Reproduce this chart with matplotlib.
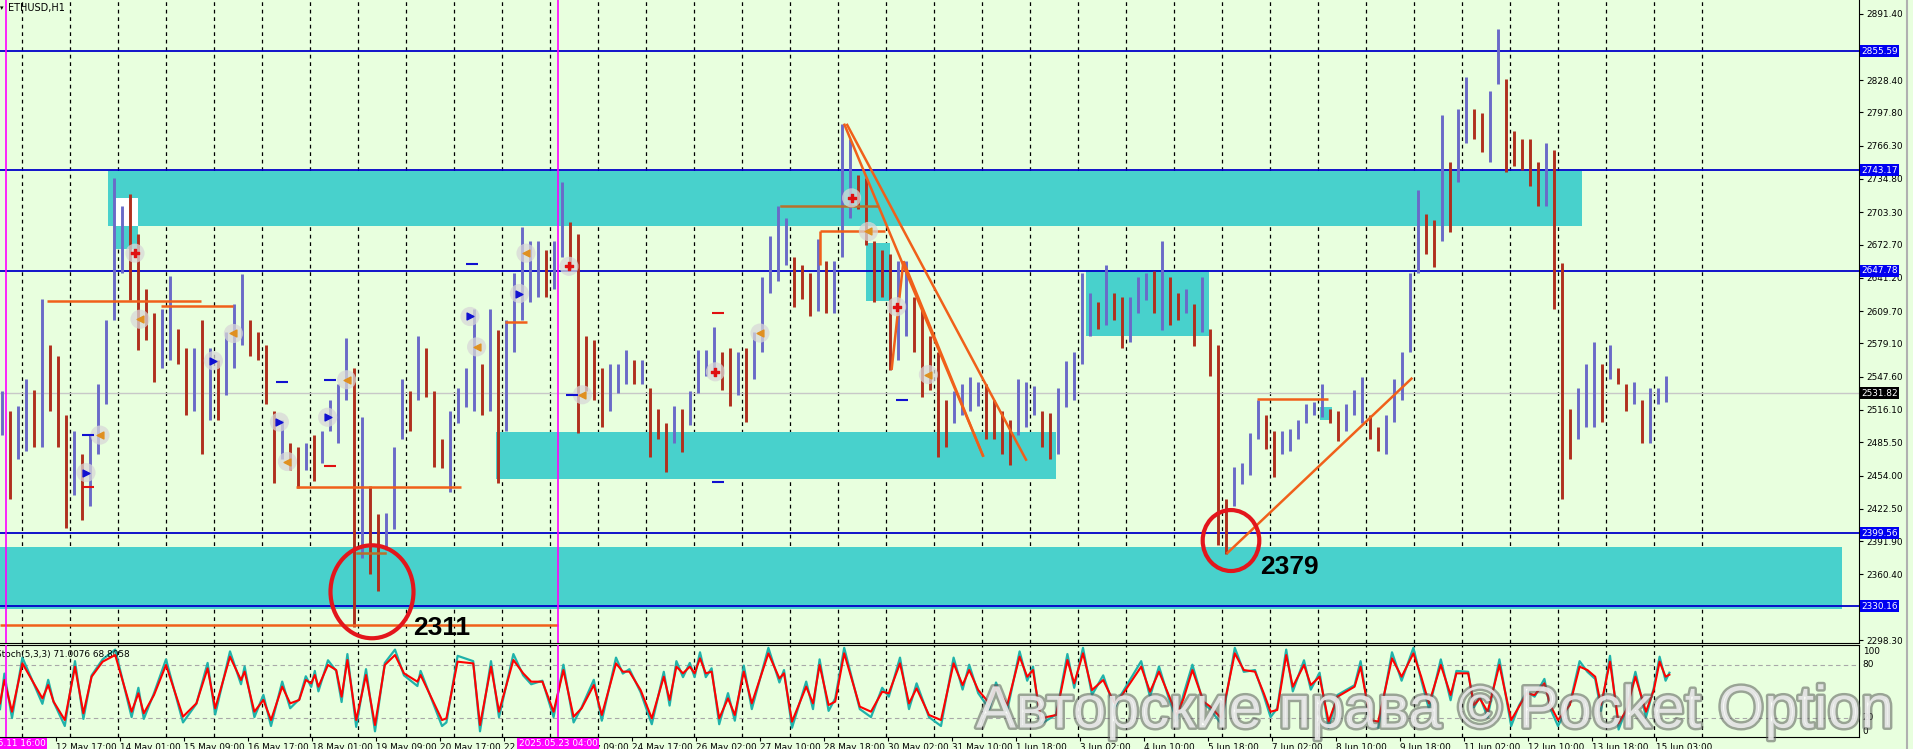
import matplotlib
matplotlib.use("Agg")
import matplotlib.pyplot as plt
import matplotlib.patheffects as pe
import matplotlib.transforms as mtransforms
from matplotlib.patches import Rectangle, Ellipse
import numpy as np

plt.rcParams['font.family'] = ['DejaVu Sans']

# ---------------------------------------------------------------- data
title_text = "ETHUSD,H1"
stoch_title = "Stoch(5,3,3) 71.0076 68.8058"

# 4-hour bars; x unit = hours since 2025.05.11 16:00 (bar centres)
bar_first_hour = -2
bar_step_hours = 4
bar_high = [
    2534, 2515, 2520, 2545, 2535, 2621, 2578, 2567, 2511, 2496,
    2474, 2492, 2541, 2601, 2736, 2709, 2721, 2683, 2631, 2608,
    2612, 2643, 2593, 2575, 2575, 2601, 2575, 2563, 2590, 2616,
    2645, 2601, 2590, 2578, 2515, 2507, 2485, 2481, 2485, 2492,
    2496, 2526, 2541, 2584, 2556, 2509, 2444, 2418, 2419, 2481,
    2545, 2534, 2586, 2575, 2534, 2489, 2515, 2537, 2556, 2612,
    2560, 2612, 2592, 2601, 2646, 2689, 2676, 2676, 2668, 2676,
    2732, 2694, 2683, 2586, 2582, 2556, 2560, 2560, 2573, 2563,
    2563, 2537, 2517, 2504, 2520, 2517, 2534, 2573, 2573, 2595,
    2571, 2575, 2571, 2575, 2590, 2642, 2681, 2709, 2698, 2661,
    2653, 2646, 2678, 2657, 2657, 2787, 2773, 2739, 2736, 2676,
    2668, 2664, 2657, 2657, 2623, 2612, 2586, 2571, 2526, 2534,
    2541, 2547, 2543, 2541, 2526, 2515, 2507, 2545, 2543, 2539,
    2515, 2513, 2537, 2562, 2571, 2646, 2627, 2618, 2653, 2627,
    2623, 2623, 2642, 2646, 2648, 2676, 2642, 2627, 2631, 2616,
    2642, 2593, 2578, 2432, 2462, 2466, 2494, 2526, 2511, 2496,
    2496, 2498, 2507, 2522, 2524, 2541, 2517, 2515, 2522, 2535,
    2547, 2511, 2500, 2511, 2545, 2571, 2646, 2724, 2702, 2696,
    2795, 2751, 2801, 2831, 2801, 2797, 2818, 2877, 2829, 2780,
    2773, 2773, 2751, 2769, 2762, 2655, 2517, 2537, 2560, 2580,
    2560, 2578, 2556, 2541, 2543, 2526, 2537, 2537, 2548,
]
bar_low = [
    2492, 2432, 2470, 2477, 2481, 2481, 2515, 2481, 2404, 2436,
    2412, 2425, 2474, 2522, 2601, 2646, 2620, 2573, 2582, 2543,
    2556, 2563, 2560, 2511, 2515, 2474, 2507, 2507, 2530, 2556,
    2578, 2567, 2563, 2522, 2447, 2470, 2459, 2442, 2459, 2449,
    2466, 2496, 2485, 2526, 2311, 2376, 2361, 2345, 2384, 2403,
    2489, 2496, 2526, 2528, 2462, 2461, 2438, 2504, 2519, 2515,
    2511, 2515, 2447, 2496, 2571, 2601, 2618, 2623, 2623, 2631,
    2661, 2650, 2494, 2534, 2526, 2500, 2515, 2532, 2541, 2541,
    2541, 2472, 2489, 2457, 2485, 2476, 2502, 2532, 2548, 2548,
    2535, 2520, 2530, 2505, 2545, 2571, 2627, 2638, 2653, 2614,
    2621, 2605, 2610, 2608, 2608, 2661, 2698, 2706, 2672, 2618,
    2623, 2554, 2563, 2586, 2571, 2528, 2535, 2472, 2481, 2504,
    2511, 2515, 2520, 2489, 2489, 2474, 2464, 2492, 2500, 2511,
    2481, 2470, 2474, 2519, 2526, 2560, 2586, 2593, 2597, 2601,
    2575, 2580, 2608, 2620, 2608, 2592, 2597, 2601, 2608, 2577,
    2590, 2548, 2388, 2380, 2425, 2446, 2455, 2489, 2479, 2453,
    2474, 2477, 2489, 2504, 2511, 2509, 2504, 2487, 2496, 2511,
    2504, 2489, 2477, 2474, 2505, 2526, 2571, 2646, 2664, 2651,
    2676, 2685, 2732, 2769, 2773, 2760, 2751, 2825, 2741, 2747,
    2743, 2728, 2709, 2709, 2612, 2432, 2470, 2489, 2500, 2500,
    2505, 2545, 2541, 2515, 2522, 2485, 2485, 2522, 2524,
]

# horizontal levels and current price
level_prices = [2855.59, 2743.17, 2647.78, 2399.56, 2330.16]
current_price = 2531.82
price_tick_values = [2891.40, 2828.40, 2797.80, 2766.30, 2734.80, 2703.30,
                     2672.70, 2641.20, 2609.70, 2579.10, 2547.60, 2516.10, 2485.50,
                     2454.00, 2422.50, 2391.90, 2360.40, 2298.30]

# supply / demand zones: (hour start, hour end, price low, price high)
zone_h0 = [51, 245, -3, 540, 430, 657, 54.5]
zone_h1 = [788, 525, 918, 601.5, 442, 663, 66]
zone_p0 = [2690.5, 2450.4, 2327.6, 2585.9, 2619.6, 2507.0, 2668.2]
zone_p1 = [2742.0, 2495.3, 2386.5, 2648.4, 2673.8, 2518.5, 2690.7]
notch_h = [54.5, 66]
notch_p = [2690.7, 2716.9]

# orange drawn lines (hour0, price0, hour1, price1)
oline_h0 = [20.5, 77.5, 145, -3, 249.5, 407, 407, 419, 420.3, 442.8, 448.7, 610.3, 625.5]
oline_p0 = [2619.6, 2614.3, 2443.5, 2312.7, 2599.0, 2685.8, 2685.8, 2787.2, 2787.0, 2554.0, 2657.0, 2380.0, 2526.8]
oline_h1 = [97.5, 113.5, 227.5, 276, 260.5, 439.5, 407, 488.7, 510.3, 448.7, 488.7, 703.2, 661]
oline_p1 = [2619.6, 2614.3, 2443.5, 2312.7, 2599.0, 2685.8, 2653.2, 2471.8, 2468.0, 2657.0, 2471.8, 2546.6, 2526.8]
bline_h0 = [387.5, 175.5]
bline_h1 = [435.5, 189.5]
bline_p = [2709.4, 2380.6]

# red circles (centre hour, centre price, width hours, height price) and labels
circle_h = [183, 612.5]
circle_p = [2344.0, 2392.5]
circle_w = [41.5, 28.3]
circle_ht = [88.0, 57.7]
note_text = ["2311", "2379"]
note_h = [218, 641.5]
note_p = [2310.0, 2367.4]

# signal markers
mark_h = [40, 47, 64.5, 67, 103.7, 113.7, 136.7, 140.7, 160.8, 170.3, 232, 235.3,
          256.7, 260, 281.5, 288.2, 354.7, 377, 422.8, 431.2, 445.3, 461.2]
mark_p = [2456.8, 2492.3, 2664.5, 2602.0, 2562.7, 2588.5, 2504.7, 2467.3, 2509.2, 2544.7,
          2604.6, 2575.8, 2626.3, 2664.5, 2652.1, 2530.5, 2552.2, 2588.9, 2716.9, 2685.1,
          2613.9, 2549.6]
mark_kind = ['buy', 'exit', 'sell', 'exit', 'buy', 'exit', 'buy', 'exit', 'buy', 'exit', 'buy',
             'exit', 'buy', 'exit', 'sell', 'exit', 'sell', 'exit', 'sell', 'exit', 'sell', 'exit']
dash_h = [41, 41, 138, 162, 162, 233, 283, 356, 356, 448]
dash_p = [2492, 2443, 2542.5, 2544, 2463.5, 2654.2, 2530.5, 2607.6, 2448, 2525.2]
dash_c = ['b', 'r', 'b', 'b', 'r', 'b', 'b', 'r', 'b', 'b']

# stochastic turning points (hours) - signal (red) and main (teal)
stoch_h = [
    -3, -0.8, 3, 8.2, 18.2, 21.1, 23.8, 29.4, 34.5, 38.7,
    42.8, 48.3, 54.6, 62.8, 66.2, 68.9, 74, 80, 88.5, 95.2,
    100.8, 104.6, 112, 117.5, 119.3, 124.2, 128.7, 132.5, 138.1, 142.1,
    146.6, 149.9, 152.6, 154.4, 156.2, 161, 165.1, 167.8, 170.7, 175.1,
    180, 184.5, 189.4, 194.5, 199, 205.7, 207.3, 218, 220.2, 225.8,
    233.6, 237, 242.5, 246.5, 253.7, 258.6, 262.6, 268.2, 273.8, 278.7,
    283.8, 287.8, 293.9, 297.9, 305, 308.4, 311.7, 317.3, 322.9, 328.9,
    331.8, 335.2, 338.5, 341.9, 344.3, 347, 349.9, 352.8, 356.6, 361,
    364.4, 368.9, 372.9, 381.2, 386.7, 389, 393, 400.1, 403.5, 406.8,
    411.3, 414.6, 419.1, 426.9, 432.5, 438.1, 441.4, 447, 451.5, 455.3,
    461.5, 467.5, 473.8, 478.3, 481.6, 486.1, 491.7, 495, 500.6, 506.8,
    510.6, 513.5, 517.3, 525.1, 530.7, 534.1, 538.5, 543, 548.6, 554.2,
    557.5, 567.6, 572, 576.5, 581, 585.4, 588.8, 593.2, 598.8, 602.1,
    607.7, 614.4, 618.9, 624.5, 628.9, 632.3, 635.6, 640.1, 643.4, 649,
    652.4, 656.8, 661.3, 665.8, 674.3, 677.3, 682.2, 686.1, 693, 697.8,
    703.7, 707.6, 711.5, 717.4, 722.3, 725.2, 731.1, 734, 736.9, 740.8,
    746.7, 752.6, 756.5, 760.4, 764.3, 769.2, 772.1, 776, 781.9, 786.8,
    790.7, 794.6, 797.5, 802, 806.3, 810.2, 814.7, 820, 823.9, 826.8,
    829.8, 831.7,
]
stoch_signal = [
    36.5, 62.8, 27.1, 81.5, 42.1, 57.1, 38.4, 17.7, 77.8, 25.3,
    66.5, 83.4, 90.9, 27.1, 47.8, 25.3, 45.9, 79.7, 21.5, 36.5,
    75.9, 30.9, 89.0, 62.8, 72.2, 27.1, 40.3, 17.7, 55.3, 36.5,
    40.3, 62.8, 59.0, 68.4, 55.3, 79.7, 74.0, 44.0, 85.3, 17.7,
    68.4, 12.1, 79.7, 90.9, 70.3, 60.9, 68.4, 17.7, 19.6, 83.4,
    81.5, 12.1, 77.8, 27.1, 85.3, 70.3, 60.9, 60.9, 27.1, 74.0,
    21.5, 30.9, 57.1, 23.4, 81.5, 72.2, 72.2, 51.5, 19.6, 66.5,
    40.3, 77.8, 70.3, 77.8, 70.3, 87.2, 70.3, 72.2, 19.6, 42.1,
    23.4, 72.2, 36.5, 92.8, 64.6, 70.3, 15.9, 55.3, 36.5, 79.7,
    34.6, 38.4, 92.8, 32.8, 27.1, 49.6, 47.8, 81.5, 36.5, 53.4,
    23.4, 17.7, 81.5, 57.1, 74.0, 51.5, 36.5, 55.3, 34.6, 89.0,
    66.5, 74.0, 19.6, 23.4, 85.3, 59.0, 92.8, 51.5, 62.8, 36.5,
    44.0, 77.8, 49.6, 72.2, 47.8, 23.4, 42.1, 74.0, 38.4, 32.8,
    19.6, 92.8, 74.0, 72.2, 47.8, 27.1, 29.0, 90.9, 55.3, 79.7,
    57.1, 66.5, 15.9, 44.0, 55.3, 77.8, 17.7, 15.9, 87.2, 66.5,
    92.8, 66.5, 36.5, 79.7, 45.9, 70.3, 70.3, 34.6, 42.1, 27.1,
    79.7, 17.7, 32.8, 47.8, 45.9, 59.0, 34.6, 17.7, 34.6, 77.8,
    74.0, 66.5, 34.6, 83.4, 14.0, 29.0, 66.5, 27.1, 51.5, 83.4,
    66.5, 68.8,
]
stoch_main = [
    30, 70, 20, 88, 36, 63, 38, 11, 84, 19,
    68, 86, 97, 21, 54, 19, 48, 86, 15, 36,
    82, 24, 95, 58, 78, 21, 46, 11, 61, 31,
    41, 67, 55, 73, 50, 85, 73, 38, 92, 10,
    75, 5, 82, 97, 68, 56, 73, 11, 15, 90,
    84, 5, 84, 21, 92, 68, 58, 62, 21, 80,
    15, 32, 63, 17, 88, 70, 75, 49, 13, 72,
    34, 84, 66, 82, 66, 94, 66, 76, 13, 48,
    17, 79, 30, 99, 60, 74, 9, 61, 30, 86,
    28, 42, 99, 30, 21, 54, 44, 88, 30, 59,
    21, 11, 88, 52, 80, 48, 30, 60, 28, 95,
    62, 78, 13, 24, 92, 54, 99, 46, 68, 31,
    46, 84, 44, 78, 45, 17, 47, 80, 36, 30,
    13, 99, 72, 74, 45, 21, 31, 97, 50, 85,
    52, 71, 9, 46, 57, 84, 14, 9, 94, 62,
    99, 63, 30, 86, 40, 73, 72, 32, 44, 21,
    86, 11, 34, 50, 44, 64, 31, 11, 36, 84,
    72, 64, 28, 90, 7, 30, 72, 21, 54, 89,
    62, 71.0,
]

# time axis labels (one every 32 bars starting at 12 May 17:00)
date_first_hour = 25
date_step_hours = 32
date_labels = ["12 May 17:00", "14 May 01:00", "15 May 09:00", "16 May 17:00", "18 May 01:00",
               "19 May 09:00", "20 May 17:00", "22 May 01:00", "23 May 09:00", "24 May 17:00",
               "26 May 02:00", "27 May 10:00", "28 May 18:00", "30 May 02:00", "31 May 10:00",
               "1 Jun 18:00", "3 Jun 02:00", "4 Jun 10:00", "5 Jun 18:00", "7 Jun 02:00",
               "8 Jun 10:00", "9 Jun 18:00", "11 Jun 02:00", "12 Jun 10:00", "13 Jun 18:00",
               "15 Jun 03:00"]
separator_hours = [0, 276]
separator_labels = ["2025.05.11 16:00", "2025.05.23 04:00"]
grid_first_hour = 8
grid_last_hour = 848
watermark = "Авторские права © Pocket Option"

# ---------------------------------------------------------------- style
BG = '#E8FFDE'
BAR_UP = '#6A6AC8'
BAR_DN = '#B0301E'
CYAN = '#48D1CC'
LEVEL = '#0000C8'
ORANGE = '#F0601A'
FS = 6.4

W, H = 1913, 749
fig = plt.figure(figsize=(W / 100, H / 100), dpi=100, facecolor=BG)
XL = (-3, 926.5)
ax = fig.add_axes([0, (H - 643) / H, 1859 / W, 643 / H])
ax2 = fig.add_axes([0, (H - 737) / H, 1859 / W, (737 - 645) / H])
for a in (ax, ax2):
    a.set_facecolor(BG)
    a.set_xlim(*XL)
    a.spines['left'].set_visible(False)
    a.spines['right'].set_color('black')
    a.spines['bottom'].set_color('black')
ax.spines['top'].set_visible(False)
ax2.spines['top'].set_color('black')
ax.set_ylim(2295.5, 2904.2)
ax2.set_ylim(-1.4, 102.2)

# vertical grid (midnights) and separators
grid_hours = np.arange(grid_first_hour, grid_last_hour + 1, 24)
for a in (ax, ax2):
    for gh in grid_hours:
        a.axvline(gh, color='black', lw=0.9, ls=(0, (3, 3)), zorder=1)
    for sh in separator_hours:
        a.axvline(sh, color='#FF00FF', lw=1.2, zorder=6)

# zones
for h0, h1, p0, p1 in zip(zone_h0, zone_h1, zone_p0, zone_p1):
    ax.add_patch(Rectangle((h0, p0), h1 - h0, p1 - p0, fc=CYAN, ec='none', zorder=2))
ax.add_patch(Rectangle((notch_h[0], notch_p[0]), notch_h[1] - notch_h[0], notch_p[1] - notch_p[0],
                       fc='white', ec='none', zorder=2.1))

# levels
for lp in level_prices:
    ax.axhline(lp, color=LEVEL, lw=1.3, zorder=3)
ax.axhline(current_price, color='#C8C8C8', lw=1.0, zorder=1.5)

# bars
bh = np.array(bar_high, float)
bl = np.array(bar_low, float)
hours = bar_first_hour + bar_step_hours * np.arange(len(bh))
mid = (bh + bl) / 2
up = np.r_[True, mid[1:] >= mid[:-1]]
ax.vlines(hours[up], bl[up], bh[up], color=BAR_UP, lw=2.1, zorder=4)
ax.vlines(hours[~up], bl[~up], bh[~up], color=BAR_DN, lw=2.1, zorder=4)

# orange lines
for h0, p0, h1, p1 in zip(oline_h0, oline_p0, oline_h1, oline_p1):
    ax.plot([h0, h1], [p0, p1], color=ORANGE, lw=1.8, zorder=5, solid_capstyle='butt')
for h0, h1, p in zip(bline_h0, bline_h1, bline_p):
    ax.plot([h0, h1], [p, p], color='#B8702A', lw=1.8, zorder=5)

# markers
for h, p, k in zip(mark_h, mark_p, mark_kind):
    ax.scatter([h], [p], s=190, color='#D8D8D8', alpha=0.75, edgecolors='none', zorder=5)
    if k == 'buy':
        ax.scatter([h], [p], s=24, marker='>', color='#1010D0', zorder=6)
    elif k == 'sell':
        ax.scatter([h], [p], s=34, marker='P', color='#E01010', zorder=6)
    else:
        ax.scatter([h], [p], s=24, marker='<', color='#E09020', zorder=6)
for h, p, c in zip(dash_h, dash_p, dash_c):
    ax.plot([h], [p], marker='_', ms=8, mew=1.5, color='#1010D0' if c == 'b' else '#E01010', zorder=6)

# circles + notes
for h, p, w, hh in zip(circle_h, circle_p, circle_w, circle_ht):
    ax.add_patch(Ellipse((h, p), w, hh, fill=False, ec='#E3161C', lw=3.0, zorder=7))
for t, h, p in zip(note_text, note_h, note_p):
    ax.text(h, p, t, fontsize=19, fontweight='bold', family='Liberation Sans', color='black',
            ha='center', va='center', zorder=8)

# price axis
ax.yaxis.tick_right()
ax.set_yticks(price_tick_values)
ax.set_yticklabels([f"{v:.2f}" for v in price_tick_values])
ax.tick_params(axis='y', length=3, width=0.8, pad=2, labelsize=FS, colors='black')
ax.set_xticks([])
tr = mtransforms.blended_transform_factory(ax.transAxes, ax.transData)
for lp in level_prices:
    ax.text(1.0012, lp, f"{lp:.2f}", transform=tr, fontsize=FS, color='white', ha='left', va='center',
            bbox=dict(boxstyle='square,pad=0.18', fc='#0000F0', ec='none'), clip_on=False, zorder=9)
ax.text(1.0012, current_price, f"{current_price:.2f}", transform=tr, fontsize=FS, color='white',
        ha='left', va='center', bbox=dict(boxstyle='square,pad=0.18', fc='black', ec='none'),
        clip_on=False, zorder=9)

# stochastic
ax2.axhline(80, color='#A8A8A8', lw=0.8, ls=(0, (4, 3)), zorder=1)
ax2.axhline(20, color='#A8A8A8', lw=0.8, ls=(0, (4, 3)), zorder=1)
ax2.plot(stoch_h, stoch_main, color='#20B2AA', lw=1.6, zorder=3)
ax2.plot(stoch_h, stoch_signal, color='#FF0000', lw=1.5, zorder=4)
ax2.set_yticks([])
tr2 = mtransforms.blended_transform_factory(ax2.transAxes, ax2.transData)
for v, va in ((100, 'top'), (80, 'center'), (20, 'center'), (0, 'bottom')):
    ax2.text(1.002, v, str(v), transform=tr2, fontsize=FS, ha='left', va=va, clip_on=False)
date_hours = date_first_hour + date_step_hours * np.arange(len(date_labels))
ax2.set_xticks(date_hours)
ax2.set_xticklabels(date_labels, ha='left')
ax2.tick_params(axis='x', length=3, width=0.8, pad=1, labelsize=FS, colors='black')
ax2.text(-0.002, 0.9, stoch_title, transform=ax2.transAxes, fontsize=FS, ha='left', va='center')

# separator labels at the time axis
trx = mtransforms.blended_transform_factory(ax2.transData, fig.transFigure)
for sh, sl in zip(separator_hours, separator_labels):
    fig.text(sh, 1 - 744 / H, sl, fontsize=FS, color='white', ha='center', va='center',
             transform=trx, bbox=dict(boxstyle='square,pad=0.2', fc='#FF00FF', ec='none'), zorder=10)

# title
fig.text(8 / W, 1 - 8 / H, title_text, fontsize=FS + 0.6, ha='left', va='center')
fig.text(0 / W, 1 - 8 / H, '▾', fontsize=5, ha='left', va='center')

# window border at right
fig.add_artist(plt.Line2D([1907 / W, 1907 / W], [0, 1], color='#B0B0B0', lw=1.5))

# watermark
fig.text(976 / W, 1 - 712 / H, watermark, fontsize=43, family='Liberation Sans', color=(1, 1, 1, 0.7),
         ha='left', va='center', zorder=20,
         path_effects=[pe.withStroke(linewidth=3.5, foreground=(0.35, 0.35, 0.35, 0.55))])

fig.savefig('out.png', dpi=100, facecolor=BG)
